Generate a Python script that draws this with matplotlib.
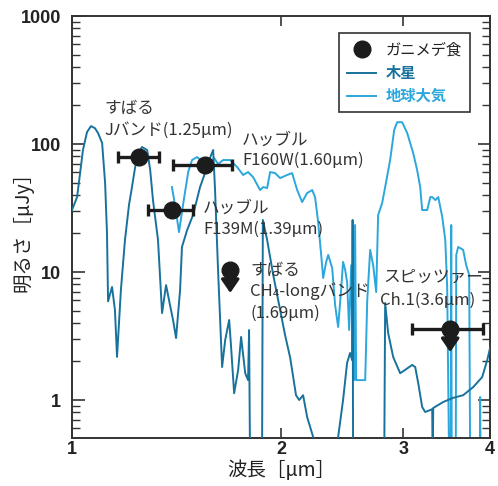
import matplotlib
matplotlib.use("Agg")
import matplotlib.pyplot as plt
from matplotlib.lines import Line2D
from matplotlib.ticker import FixedLocator, NullFormatter, NullLocator, LogLocator

plt.rcParams['font.family'] = ['Noto Sans CJK JP', 'DejaVu Sans']

# ---- Jupiter spectrum (wavelength um, flux uJy); 0.3 = below plot floor
jup_wl = [1.000, 1.017, 1.037, 1.051, 1.065, 1.079, 1.090, 1.105, 1.116, 1.123,
          1.127, 1.142, 1.153, 1.161, 1.176, 1.192, 1.208, 1.220, 1.233, 1.245,
          1.261, 1.283, 1.296, 1.308, 1.330, 1.348, 1.366, 1.384, 1.398, 1.412,
          1.431, 1.440, 1.465, 1.494, 1.529, 1.560, 1.580, 1.597, 1.607, 1.623,
          1.645, 1.662, 1.684, 1.694, 1.712, 1.735, 1.752, 1.776, 1.793, 1.799,
          1.805, 1.873, 1.878, 1.883, 1.910, 1.949, 1.994, 2.027, 2.062, 2.102,
          2.124, 2.152, 2.181, 2.225, 2.247, 2.393, 2.417, 2.457, 2.490, 2.515,
          2.532, 2.536, 2.540, 2.816, 2.825, 2.853, 2.901, 2.969, 3.019, 3.090,
          3.121, 3.152, 3.194, 3.226, 3.281, 3.302, 3.307, 3.313, 3.425, 3.540,
          3.659, 3.782, 3.897, 3.963, 4.003]
jup_flux = [30.5, 38.5, 89.8, 124, 138, 133, 122, 102, 49.6, 20.2,
            5.9, 7.64, 5.05, 2.17, 7.23, 17.8, 33.4, 46.1, 66.1, 82.0,
            94.8, 89.8, 62.7, 36.5, 17.8, 4.78, 7.91, 5.52, 4.22, 3.05,
            7.23, 15.7, 21.3, 27.9, 46.1, 62.7, 77.8, 89.8, 43.7, 10.4,
            1.81, 2.94, 4.22, 2.69, 1.13, 1.72, 3.11, 1.62, 1.43, 3.52,
            0.3, 0.3, 0.3, 25.5, 17.8, 9.48, 5.05, 3.22, 2.13, 1.09,
            1.0, 1.09, 0.736, 0.514, 0.3, 0.3, 0.514, 1.0, 1.95, 2.33,
            2.05, 25.5, 0.3, 0.3, 5.73, 3.34, 2.17, 1.62, 1.72, 1.88,
            1.81, 1.36, 0.882, 0.806, 0.835, 0.85, 0.3, 0.866, 0.965, 1.04,
            1.09, 1.26, 1.51, 2.05, 2.59]

# ---- Earth atmosphere spectrum
earth_wl = [1.393, 1.407, 1.426, 1.445, 1.470, 1.489, 1.514, 1.544, 1.576, 1.602,
            1.623, 1.651, 1.689, 1.729, 1.764, 1.793, 1.823, 1.866, 1.885, 1.910,
            1.929, 1.961, 1.994, 2.041, 2.075, 2.110, 2.145, 2.181, 2.218, 2.239,
            2.262, 2.285, 2.300, 2.323, 2.339, 2.370, 2.393, 2.417, 2.441, 2.457,
            2.474, 2.490, 2.507, 2.524, 2.540, 2.549, 2.557, 2.566, 2.644, 2.662,
            2.688, 2.715, 2.742, 2.760, 2.797, 2.825, 2.872, 2.911, 2.940, 2.989,
            3.039, 3.100, 3.141, 3.173, 3.194, 3.248, 3.281, 3.302, 3.336, 3.369,
            3.414, 3.448, 3.470, 3.493, 3.511, 3.517, 3.523, 3.570, 3.576, 3.599,
            3.659, 3.696, 3.733, 3.745, 3.865, 3.871, 3.877]
earth_flux = [46.1, 33.4, 20.5, 33.4, 60.4, 75.0, 79.1, 72.3, 71.1, 77.8,
              69.8, 75.0, 75.0, 66.1, 57.3, 60.4, 55.2, 43.7, 46.1, 45.3,
              60.4, 59.3, 54.2, 57.3, 59.3, 43.7, 35.2, 41.4, 43.7, 38.5,
              24.6, 13.6, 8.98, 12.0, 13.6, 10.7, 5.52, 3.72, 7.23, 12.0,
              10.4, 8.36, 3.52, 11.3, 1.81, 1.43, 23.3, 1.43, 1.43, 6.04,
              14.9, 11.3, 6.98, 27.9, 34.6, 46.1, 75.0, 129, 148, 148,
              122, 85.1, 62.7, 46.1, 30.5, 30.5, 38.5, 38.5, 36.5, 38.5,
              26.9, 17.8, 7.64, 0.3, 0.3, 23.3, 0.3, 0.3, 13.6, 15.7,
              14.9, 11.3, 9.5, 0.3, 0.3, 1.055, 0.3]

# ---- Ganymede eclipse photometry
gan_wl = [1.249, 1.555, 1.393]
gan_flux = [79.0, 68.5, 30.5]
gan_lo = [1.165, 1.398, 1.287]
gan_hi = [1.335, 1.700, 1.494]
lim_wl = [1.69, 3.505]
lim_flux = [10.4, 3.59]
lim_lo = [None, 3.09]
lim_hi = [None, 3.91]

labels_txt = [
    (1.112, 191, "すばる"), (1.112, 129, "Jバンド(1.25μm)"),
    (1.758, 107, "ハッブル"), (1.758, 75, "F160W(1.60μm)"),
    (1.544, 31.6, "ハッブル"), (1.544, 21.7, "F139M(1.39μm)"),
    (1.805, 10.2, "すばる"), (1.805, 7.1, "CH₄-longバンド"), (1.805, 4.78, "(1.69μm)"),
    (2.807, 9.14, "スピッツァー"), (2.779, 6.04, "Ch.1(3.6μm)"),
]

jup_c = '#17729c'
earth_c = '#2ba7de'
blk = '#1c1c1c'

fig = plt.figure(figsize=(4.98, 4.86), dpi=100)
fig.subplots_adjust(left=0.1446, right=0.984, top=0.967, bottom=0.0988)
ax = fig.add_subplot(111)
ax.set_xscale('log')
ax.set_yscale('log')

ax.plot(earth_wl, earth_flux, color=earth_c, lw=1.4, zorder=2)
ax.plot(jup_wl, jup_flux, color=jup_c, lw=1.4, zorder=3)

for x, y, lo, hi in zip(gan_wl, gan_flux, gan_lo, gan_hi):
    ax.errorbar([x], [y], xerr=[[x - lo], [hi - x]], fmt='o', color=blk,
                ms=12, elinewidth=2.4, capsize=4, capthick=2.4, zorder=5)

for x, y, lo, hi in zip(lim_wl, lim_flux, lim_lo, lim_hi):
    if lo is not None:
        ax.errorbar([x], [y], xerr=[[x - lo], [hi - x]], fmt='o', color=blk,
                    ms=12, elinewidth=2.4, capsize=4, capthick=2.4, zorder=5)
    else:
        ax.plot([x], [y], 'o', color=blk, ms=12, zorder=5)
    ax.annotate('', xy=(x, y * 0.66), xytext=(x, y),
                arrowprops=dict(arrowstyle='-|>,head_width=0.55,head_length=0.8',
                                lw=2.4, color=blk, shrinkA=0, shrinkB=0), zorder=5)

for x, y, s in labels_txt:
    ax.text(x, y, s, fontsize=12, color='#333333', ha='left', va='center', zorder=6)

ax.set_xlim(1, 4)
ax.set_ylim(0.505, 1000)

ax.xaxis.set_major_locator(FixedLocator([1, 2, 3, 4]))
ax.xaxis.set_minor_locator(NullLocator())
ax.set_xticklabels(['1', '2', '3', '4'])
ax.yaxis.set_major_locator(FixedLocator([1, 10, 100, 1000]))
ax.yaxis.set_minor_locator(LogLocator(base=10, subs=range(2, 10)))
ax.yaxis.set_minor_formatter(NullFormatter())
ax.set_yticklabels(['1', '10', '100', '1000'])

for lab in ax.get_xticklabels() + ax.get_yticklabels():
    lab.set_family('Liberation Sans')
    lab.set_fontweight('bold')
    lab.set_fontsize(13)
    lab.set_color('#222222')

ax.tick_params(which='major', direction='in', length=9, width=1.2,
               top=True, right=True, color='#333333')
ax.tick_params(which='minor', direction='in', length=6, width=1.0,
               right=True, color='#333333')
ax.tick_params(axis='y', which='major', pad=8)
ax.tick_params(axis='x', which='major', pad=2, length=7)
for sp in ax.spines.values():
    sp.set_linewidth(1.4)
    sp.set_color('#333333')

ax.set_xlabel('波長［μm］', fontsize=14, color='#222222')
ax.set_ylabel('明るさ［μJy］', fontsize=14, color='#222222')
ax.xaxis.set_label_coords(0.5, -0.052)
ax.yaxis.set_label_coords(-0.093, 0.5)

handles = [Line2D([], [], marker='o', ls='none', color=blk, ms=12),
           Line2D([], [], color=jup_c, lw=1.4),
           Line2D([], [], color=earth_c, lw=1.4)]
leg = ax.legend(handles, ['ガニメデ食', '木星', '地球大気'], loc='upper right',
                bbox_to_anchor=(0.952, 0.960), borderaxespad=0, fancybox=False,
                edgecolor='#333333', framealpha=1, fontsize=11, handlelength=1.9,
                handletextpad=0.6, labelspacing=0.45, borderpad=0.55)
leg.get_frame().set_linewidth(1.2)
txts = leg.get_texts()
txts[0].set_color('#222222')
txts[1].set_color(jup_c)
txts[1].set_fontweight('bold')
txts[2].set_color(earth_c)
txts[2].set_fontweight('bold')

fig.savefig('out.png', dpi=100)
